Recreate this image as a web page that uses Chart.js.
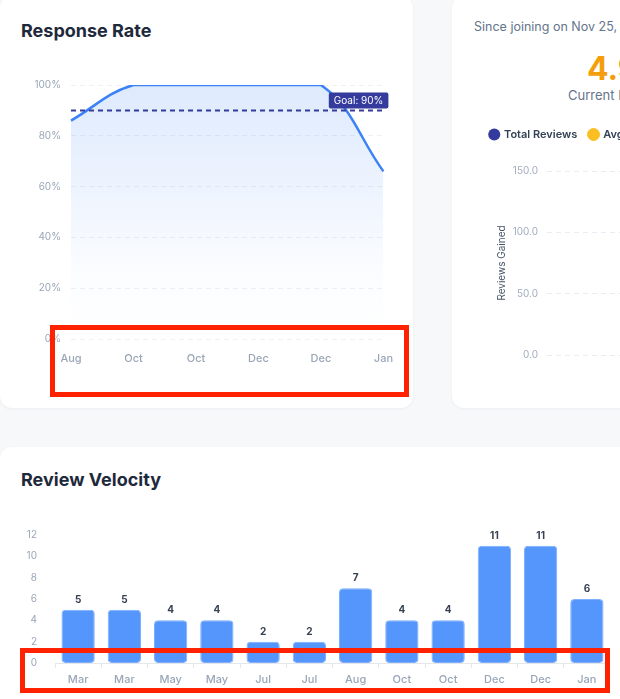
<!DOCTYPE html>
<html>
<head>
<meta charset="utf-8">
<script src="https://cdn.jsdelivr.net/npm/chart.js@4.4.1/dist/chart.umd.min.js"></script>
<style>
  html, body { margin: 0; padding: 0; }
  body {
    width: 620px; height: 699px; overflow: hidden; position: relative;
    background: #f7f8fa; font-family: Inter, "Noto Sans", sans-serif;
  }
  .card {
    position: absolute; background: #fff; border-radius: 12px;
    box-shadow: 0 1px 3px rgba(15, 23, 42, 0.05);
  }
  .title {
    position: absolute; font-size: 18px; line-height: 20px; font-weight: 700;
    color: #1e293b; white-space: nowrap;
  }
  .box { position: absolute; }
  .mark { position: absolute; box-sizing: border-box; border: 5px solid #ff2200; z-index: 10; }
  .txt { position: absolute; white-space: nowrap; }
</style>
</head>
<body>

<div class="card" style="left:0; top:-4px; width:413px; height:412px;"></div>
<div class="card" style="left:452px; top:-4px; width:413px; height:412px;"></div>
<div class="card" style="left:0; top:447px; width:700px; height:300px;"></div>

<div class="title" style="left:21px; top:21px;">Response Rate</div>
<div class="title" style="left:21px; top:470px;">Review Velocity</div>

<div class="txt" style="left:474px; top:19px; font-size:12.5px; line-height:16px; color:#64748b;">Since joining on Nov 25, 2023</div>
<div class="txt" style="left:587px; top:49px; font-size:32px; line-height:40px; font-weight:700; color:#f59e0b;">4.9</div>
<div class="txt" style="left:568px; top:87px; font-size:13px; line-height:16px; color:#64748b;">Current Rating</div>

<div class="box" style="left:21px; top:69px; width:377px; height:300px;"><canvas id="rateChart"></canvas></div>
<div class="box" style="left:478px; top:117px; width:420px; height:253px;"><canvas id="reviewChart"></canvas></div>
<div class="box" style="left:10px; top:515px; width:600px; height:178px;"><canvas id="velocityChart"></canvas></div>

<div class="mark" style="left:50px; top:325px; width:359px; height:72px;"></div>
<div class="mark" style="left:20px; top:648px; width:590px; height:45px;"></div>

<script>
// response rate
const rateLabels = ['Aug', 'Oct', 'Oct', 'Dec', 'Dec', 'Jan'];
const rateValues = [86, 100, 100, 100, 100, 66];
const goalRate = 90;

// review velocity
const velocityLabels = ['Mar', 'Mar', 'May', 'May', 'Jul', 'Jul', 'Aug', 'Oct', 'Oct', 'Dec', 'Dec', 'Jan'];
const velocityValues = [5, 5, 4, 4, 2, 2, 7, 4, 4, 11, 11, 6];

// reviews chart (plot area is cut off in the picture, nothing visible)
const reviewLabels = [];
const totalReviews = [];
const avgRating = [];

Chart.defaults.font.family = 'Inter, "Noto Sans", sans-serif';
Chart.defaults.animation = false;
Chart.defaults.maintainAspectRatio = false;
Chart.defaults.responsive = true;

const tickGrey = '#9aa6b8';

// dashed goal line with its tag
const goalLine = {
  id: 'goalLine',
  afterDatasetsDraw(chart) {
    const {ctx, chartArea: a, scales: {y}} = chart;
    const py = y.getPixelForValue(goalRate);
    ctx.save();
    ctx.strokeStyle = '#353b9c';
    ctx.lineWidth = 2;
    ctx.setLineDash([5, 4]);
    ctx.beginPath();
    ctx.moveTo(a.left, py);
    ctx.lineTo(a.right, py);
    ctx.stroke();
    ctx.setLineDash([]);
    const label = 'Goal: ' + goalRate + '%';
    ctx.font = '10px Inter, sans-serif';
    const w = ctx.measureText(label).width + 10;
    const h = 16;
    const x = a.right + 5 - w;
    const top = py - 2 - h;
    ctx.fillStyle = '#353b9c';
    ctx.beginPath();
    ctx.roundRect(x, top, w, h, 2);
    ctx.fill();
    ctx.fillStyle = '#ffffff';
    ctx.textAlign = 'center';
    ctx.textBaseline = 'middle';
    ctx.fillText(label, x + w / 2, top + h / 2 + 0.5);
    ctx.restore();
  }
};

// numbers above the bars
const barValues = {
  id: 'barValues',
  afterDatasetsDraw(chart) {
    const {ctx} = chart;
    const meta = chart.getDatasetMeta(0);
    ctx.save();
    ctx.font = 'bold 10px Inter, sans-serif';
    ctx.fillStyle = '#374151';
    ctx.textAlign = 'center';
    ctx.textBaseline = 'middle';
    meta.data.forEach((bar, i) => {
      ctx.fillText(chart.data.datasets[0].data[i], bar.x, bar.y - 10);
    });
    ctx.restore();
  }
};

// more room under the legend
const legendGap = {
  id: 'legendGap',
  beforeInit(chart) {
    const fit = chart.legend.fit;
    chart.legend.fit = function () {
      fit.call(this);
      this.height += 21;
    };
  }
};

new Chart(document.getElementById('rateChart'), {
  type: 'line',
  data: {
    labels: rateLabels,
    datasets: [{
      label: 'Response Rate',
      data: rateValues,
      borderColor: '#3b82f6',
      borderWidth: 2.5,
      pointRadius: 0,
      tension: 0.4,
      fill: true,
      backgroundColor: (c) => {
        const a = c.chart.chartArea;
        if (!a) return 'rgba(59,130,246,0.1)';
        const g = c.chart.ctx.createLinearGradient(0, a.top, 0, a.bottom);
        g.addColorStop(0, 'rgba(59,130,246,0.17)');
        g.addColorStop(0.75, 'rgba(59,130,246,0.02)');
        g.addColorStop(1, 'rgba(59,130,246,0)');
        return g;
      }
    }]
  },
  options: {
    layout: {padding: {top: 10, right: 10, left: 0, bottom: 0}},
    plugins: {legend: {display: false}, tooltip: {enabled: false}},
    scales: {
      x: {
        grid: {display: false},
        border: {display: false},
        ticks: {color: tickGrey, font: {size: 11, weight: 500}, padding: 5, maxRotation: 0},
        afterFit(s) { s.height = 30; }
      },
      y: {
        min: 0, max: 100,
        grid: {color: '#edf0f5', drawTicks: false},
        border: {display: false, dash: [5, 4]},
        ticks: {stepSize: 20, color: tickGrey, font: {size: 10}, padding: 10, callback: v => v + '%'},
        afterFit(s) { s.width = 50; }
      }
    }
  },
  plugins: [goalLine]
});

new Chart(document.getElementById('reviewChart'), {
  type: 'bar',
  data: {
    labels: reviewLabels,
    datasets: [
      {label: 'Total Reviews', data: totalReviews, backgroundColor: '#353b9c', borderColor: '#353b9c'},
      {label: 'Avg Rating', type: 'line', data: avgRating, backgroundColor: '#fbbf24', borderColor: '#fbbf24'}
    ]
  },
  options: {
    plugins: {
      tooltip: {enabled: false},
      legend: {
        align: 'start',
        labels: {
          usePointStyle: true, pointStyle: 'circle', boxWidth: 8.5, boxHeight: 8.5,
          padding: 12, color: '#334155', font: {size: 11, weight: 600}
        }
      }
    },
    scales: {
      x: {display: false},
      y: {
        min: 0, max: 150,
        grid: {color: '#e8edf3', drawTicks: false},
        border: {display: false, dash: [5, 4]},
        ticks: {stepSize: 50, color: '#a3adbf', font: {size: 10}, padding: 9, callback: v => v.toFixed(1)},
        title: {display: true, text: 'Reviews Gained', color: '#475569', font: {size: 10}, padding: {top: 18, bottom: 4}},
        afterFit(s) { s.width = 69; }
      }
    }
  },
  plugins: [legendGap]
});

new Chart(document.getElementById('velocityChart'), {
  type: 'bar',
  data: {
    labels: velocityLabels,
    datasets: [{
      label: 'Reviews',
      data: velocityValues,
      backgroundColor: '#5596fc',
      borderColor: '#7eb0fd',
      borderWidth: 1,
      borderRadius: 4,
      borderSkipped: false
    }]
  },
  options: {
    layout: {padding: {top: 20, right: 0, left: 0, bottom: 0}},
    plugins: {legend: {display: false}, tooltip: {enabled: false}},
    scales: {
      x: {
        grid: {display: true, drawOnChartArea: false, drawTicks: true, tickLength: 5, color: '#e5e7eb'},
        border: {display: true, color: '#e5e7eb'},
        ticks: {color: tickGrey, font: {size: 11, weight: 500}, padding: 5, maxRotation: 0},
        afterFit(s) { s.height = 30; }
      },
      y: {
        min: 0, max: 12,
        grid: {display: false},
        border: {display: false},
        ticks: {stepSize: 2, color: tickGrey, font: {size: 10}, padding: 10},
        afterFit(s) { s.width = 45; }
      }
    }
  },
  plugins: [barValues]
});
</script>
</body>
</html>
